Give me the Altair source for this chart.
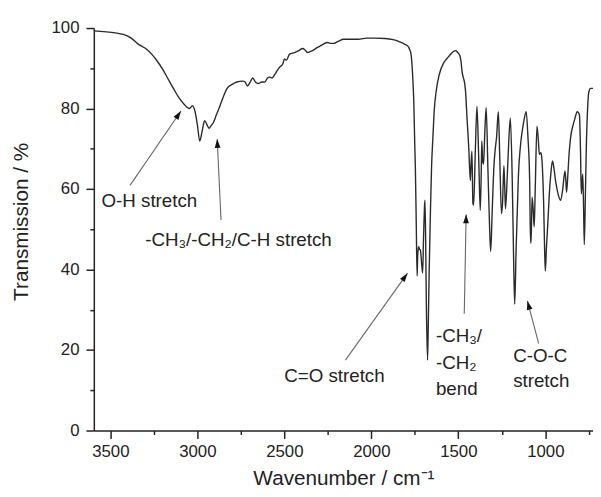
import math
import altair as alt
import pandas as pd

# ---- spectrum (wavenumber / cm-1, transmission / %) ----
wavenumber = [3595, 3540, 3472, 3425, 3380, 3340, 3293, 3260, 3226, 3200, 3169, 3135, 3103, 3075,
              3046, 3028, 3013, 3000, 2986, 2972, 2958, 2945, 2933, 2920, 2909, 2890, 2876, 2850,
              2829, 2800, 2773, 2740, 2726, 2712, 2697, 2682, 2665, 2650, 2630, 2612, 2598, 2584,
              2570, 2556, 2540, 2527, 2510, 2499, 2489, 2470, 2442, 2420, 2395, 2380, 2366, 2350,
              2338, 2320, 2300, 2280, 2253, 2235, 2215, 2190, 2159, 2120, 2074, 2026, 1980, 1922,
              1875, 1840, 1809, 1790, 1781, 1772, 1768, 1760, 1756, 1751, 1747, 1742, 1737, 1733,
              1728, 1723, 1718, 1712, 1705, 1700, 1695, 1692, 1688, 1684, 1677, 1672, 1667, 1660,
              1654, 1646, 1639, 1625, 1611, 1582, 1560, 1544, 1530, 1516, 1505, 1491, 1484, 1478,
              1470, 1465, 1459, 1450, 1440, 1431, 1427, 1422, 1416, 1412, 1402, 1393, 1383, 1374,
              1368, 1365, 1360, 1355, 1348, 1340, 1330, 1320, 1314, 1305, 1295, 1289, 1280, 1270,
              1262, 1252, 1246, 1238, 1233, 1229, 1220, 1210, 1201, 1190, 1182, 1176, 1168, 1155,
              1140, 1133, 1125, 1110, 1100, 1090, 1085, 1082, 1076, 1070, 1064, 1058, 1048, 1040,
              1034, 1025, 1019, 1010, 1004, 1000, 994, 985, 977, 968, 959, 950, 940, 925,
              912, 900, 887, 882, 878, 870, 863, 855, 840, 830, 817, 810, 804, 798,
              793, 788, 785, 780, 776, 770, 764, 757, 750, 740, 726]
transmission = [99.3, 99.1, 98.8, 98.4, 97.5, 96.0, 94.8, 93.4, 91.5, 89.8, 87.4, 84.8, 82.5, 81.0,
                80.0, 80.7, 79.2, 76.0, 71.9, 74.5, 77.0, 76.0, 75.1, 75.8, 76.4, 78.5, 80.0, 83.0,
                85.0, 86.0, 86.6, 86.8, 86.6, 85.6, 86.5, 87.6, 86.5, 86.2, 86.6, 86.6, 87.5, 87.8,
                87.6, 88.4, 89.5, 90.3, 91.0, 92.3, 92.0, 93.5, 93.9, 94.3, 94.9, 94.5, 93.9, 94.2,
                94.4, 94.9, 95.4, 95.9, 96.4, 96.2, 96.2, 96.7, 97.2, 97.2, 97.2, 97.5, 97.5, 97.4,
                97.1, 96.6, 96.0, 95.5, 94.8, 93.5, 91.9, 86.0, 81.7, 72.0, 65.3, 52.0, 38.4, 44.0,
                45.7, 45.0, 44.9, 42.0, 39.2, 48.0, 55.0, 57.2, 48.0, 32.0, 17.5, 28.0, 40.8, 55.0,
                65.3, 73.0, 79.2, 85.0, 88.2, 91.5, 92.7, 93.5, 94.1, 94.4, 94.0, 93.1, 91.5, 89.0,
                87.5, 86.6, 84.5, 77.6, 70.2, 62.1, 66.0, 69.4, 56.4, 56.0, 70.0, 80.5, 68.0, 54.7,
                65.0, 71.9, 67.0, 66.2, 74.0, 80.2, 65.0, 50.0, 44.5, 55.0, 66.0, 69.4, 73.0, 79.2,
                68.0, 53.9, 56.4, 65.8, 60.0, 55.1, 62.0, 72.0, 77.6, 62.0, 42.0, 31.4, 45.0, 63.0,
                72.0, 74.3, 76.5, 79.2, 73.0, 62.0, 46.6, 46.6, 58.0, 55.0, 50.6, 60.0, 75.6, 72.0,
                68.6, 69.0, 67.0, 57.0, 45.0, 39.6, 45.0, 52.0, 58.8, 64.0, 67.0, 65.0, 61.7, 58.5,
                57.2, 60.0, 64.5, 62.0, 59.2, 64.0, 69.0, 72.7, 76.0, 77.5, 79.2, 79.0, 78.4, 70.0,
                58.8, 62.0, 63.7, 55.0, 46.2, 58.0, 71.1, 80.0, 84.1, 85.0, 85.0]

# ---- axes ----
x_domain = [726, 3595]
y_domain = [0, 100]
x_major = [3500, 3000, 2500, 2000, 1500, 1000]
x_minor = [3250, 2750, 2250, 1750, 1250, 750]
y_major = [0, 20, 40, 60, 80, 100]
y_minor = [10, 30, 50, 70, 90]

# ---- annotations ----
label_text = ["O-H stretch", "-CH₃/-CH₂/C-H stretch", "C=O stretch", "-CH₃/", "-CH₂", "bend",
              "C-O-C", "stretch"]
label_wn = [3551, 3300, 2501, 1629, 1629, 1629, 1185, 1185]
label_t = [56.9, 47.2, 13.6, 23.4, 16.8, 10.2, 18.5, 12.4]

arrow_wn_tail = [3387, 2864, 2149, 1466, 1038]
arrow_t_tail = [60.9, 52.3, 17.5, 29.0, 21.6]
arrow_wn_tip = [3094, 2886, 1792, 1455, 1103]
arrow_t_tip = [79.4, 72.4, 39.1, 53.7, 32.2]

W, H = 506, 408
FONT = "Liberation Sans"

spec = pd.DataFrame({"wn": wavenumber, "T": transmission})
labels = pd.DataFrame({"wn": label_wn, "T": label_t, "text": label_text})
arrows = pd.DataFrame({"wn": arrow_wn_tail, "T": arrow_t_tail,
                       "wn2": arrow_wn_tip, "T2": arrow_t_tip})

# arrowhead direction on screen
kx = W / (x_domain[1] - x_domain[0])
ky = H / (y_domain[1] - y_domain[0])
angles = []
for a, b, c, d in zip(arrow_wn_tail, arrow_t_tail, arrow_wn_tip, arrow_t_tip):
    dx = -(c - a) * kx
    dy = -(d - b) * ky
    angles.append(math.degrees(math.atan2(dx, -dy)) % 360)
heads = pd.DataFrame({"wn": arrow_wn_tip, "T": arrow_t_tip, "ang": angles})

xs = alt.Scale(domain=x_domain, reverse=True, nice=False, zero=False)
ys = alt.Scale(domain=y_domain, nice=False, zero=False)

axis_common = dict(domainColor="#222", domainWidth=1.5, tickColor="#222", tickWidth=1.5,
                   labelFont=FONT, labelColor="#222", titleFont=FONT, titleColor="#222",
                   titleFontWeight="normal", grid=False)

line = alt.Chart(spec).mark_line(color="#2a2a2a", strokeWidth=1.4, interpolate="monotone").encode(
    x=alt.X("wn:Q", scale=xs, axis=alt.Axis(
        values=x_major, tickSize=8, labelPadding=5, labelFontSize=17, format="d",
        title="Wavenumber / cm⁻¹", titleFontSize=21, titleX=W / 2, titleY=55,
        titleBaseline="alphabetic", titleAlign="center", orient="bottom", **axis_common)),
    y=alt.Y("T:Q", scale=ys, axis=alt.Axis(
        values=y_major, tickSize=8, labelPadding=7, labelFontSize=17, format="d",
        title="Transmission / %", titleFontSize=21, titleX=-67, titleY=196, titleAngle=270,
        titleBaseline="alphabetic", titleAlign="center", orient="left", **axis_common)),
    order="wn:Q",
)

minor = alt.Chart(spec).mark_line(opacity=0).encode(
    x=alt.X("wn:Q", scale=xs, axis=alt.Axis(
        values=x_minor, tickSize=4, labels=False, title=None, domain=False, orient="bottom",
        tickColor="#222", tickWidth=1.5, grid=False)),
    y=alt.Y("T:Q", scale=ys, axis=alt.Axis(
        values=y_minor, tickSize=4, labels=False, title=None, domain=False, orient="left",
        tickColor="#222", tickWidth=1.5, grid=False)),
)

rules = alt.Chart(arrows).mark_rule(color="#666", strokeWidth=1.1).encode(
    x=alt.X("wn:Q", scale=xs, axis=None),
    y=alt.Y("T:Q", scale=ys, axis=None),
    x2="wn2:Q",
    y2="T2:Q",
)

heads_layer = alt.Chart(heads).mark_point(
    shape="M0,0L-0.65,2L0.65,2Z", filled=True, color="#111", size=81, opacity=1
).encode(
    x=alt.X("wn:Q", scale=xs, axis=None),
    y=alt.Y("T:Q", scale=ys, axis=None),
    angle=alt.Angle("ang:Q", scale=None),
)

texts = alt.Chart(labels).mark_text(
    align="left", baseline="middle", font=FONT, fontSize=19, color="#222"
).encode(
    x=alt.X("wn:Q", scale=xs, axis=None),
    y=alt.Y("T:Q", scale=ys, axis=None),
    text="text:N",
)

chart = alt.layer(line, minor, rules, heads_layer, texts).resolve_axis(
    x="independent", y="independent"
).properties(
    width=W, height=H,
    padding={"left": 87, "top": 17, "right": 0, "bottom": 58},
    autosize=alt.AutoSizeParams(type="none"),
    background="white",
).configure_view(stroke=None)

chart.save("out.html", embed_options={"renderer": "svg", "actions": False})
